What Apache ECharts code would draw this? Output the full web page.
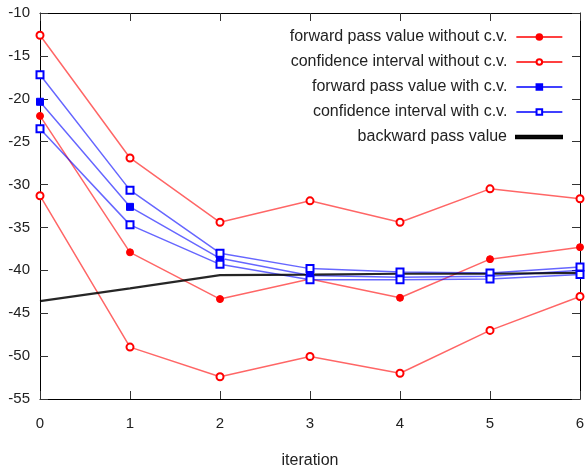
<!DOCTYPE html>
<html>
<head>
<meta charset="utf-8">
<script src="https://cdn.jsdelivr.net/npm/echarts@6/dist/echarts.min.js"></script>
<style>
  html, body { margin: 0; padding: 0; background: #fff; }
  #chart { width: 587px; height: 467px; }
</style>
</head>
<body>
<div id="chart"></div>
<script>
// iterations on x
var iterations = [0, 1, 2, 3, 4, 5, 6];

// without control variate
var fwdNoCv   = [-22.0, -37.9, -43.35, -41.0, -43.2, -38.7, -37.3];
var ciNoCvHi  = [-12.6, -26.9, -34.4, -31.9, -34.4, -30.5, -31.65];
var ciNoCvLo  = [-31.3, -48.95, -52.4, -50.05, -52.0, -47.0, -43.05];

// with control variate
var fwdCv     = [-20.35, -32.6, -38.6, -40.6, -40.8, -40.7, -40.0];
var ciCvHi    = [-17.2, -30.65, -38.0, -39.8, -40.2, -40.3, -39.6];
var ciCvLo    = [-23.5, -34.7, -39.3, -41.1, -41.1, -41.0, -40.5];

// backward pass
var backward  = [-43.6, -42.1, -40.55, -40.5, -40.4, -40.4, -40.3];

var legendNames = [
    'forward pass value without c.v.',
    'confidence interval without c.v.',
    'forward pass value with c.v.',
    'confidence interval with c.v.',
    'backward pass value'
];

var FONT = 'Liberation Sans';
var RED = '#ff0000', BLUE = '#0000ff';

function pts(vals) {
    return iterations.map(function (x, i) { return [x, vals[i]]; });
}

function mkLine(name, vals, color, symbol, size, width, opacity) {
    return {
        name: name,
        type: 'line',
        data: pts(vals),
        symbol: symbol,
        symbolSize: size,
        showSymbol: symbol !== 'none',
        lineStyle: { color: color, width: width, opacity: opacity },
        itemStyle: { color: color, borderColor: color, borderWidth: 1 },
        emphasis: { disabled: true },
        animation: false,
        z: 2
    };
}

var chart = echarts.init(document.getElementById('chart'));

// one legend per entry so that texts are right aligned like gnuplot's key
var legends = legendNames.map(function (n, i) {
    var last = i === legendNames.length - 1;
    return {
        data: [last ? { name: n, icon: 'rect' } : n],
        right: 24,
        top: 29 + i * 25,
        padding: 0,
        orient: 'horizontal',
        align: 'right',
        itemWidth: 46,
        itemHeight: last ? 2.5 : 7,
        lineStyle: { opacity: 1, width: 1.3 },
        itemStyle: last ? { color: '#222' } : {},
        textStyle: { fontFamily: FONT, fontSize: 16, color: '#222', padding: [0, 4, 0, 0] },
        selectedMode: false
    };
});

var axisCommon = {
    type: 'value',
    axisLine: { show: true, onZero: false, lineStyle: { color: '#000', width: 1 } },
    axisTick: { show: true, inside: true, length: 8, lineStyle: { color: '#333' } },
    splitLine: { show: false },
    axisLabel: { fontFamily: FONT, fontSize: 15, color: '#222' }
};

var option = {
    backgroundColor: '#fff',
    animation: false,
    grid: { left: 40, right: 7, top: 13, bottom: 68, containLabel: false, outerBoundsMode: 'none' },
    legend: legends,
    xAxis: [
        Object.assign({}, axisCommon, {
            min: 0, max: 6, interval: 1, position: 'bottom',
            name: 'iteration', nameLocation: 'middle', nameGap: 54,
            nameTextStyle: { fontFamily: FONT, fontSize: 16, color: '#222' },
            axisLabel: Object.assign({}, axisCommon.axisLabel, { margin: 17 })
        }),
        Object.assign({}, axisCommon, {
            min: 0, max: 6, interval: 1, position: 'top',
            axisLabel: { show: false }
        })
    ],
    yAxis: [
        Object.assign({}, axisCommon, {
            min: -55, max: -10, interval: 5, position: 'left',
            axisLabel: Object.assign({}, axisCommon.axisLabel, { margin: 10 })
        }),
        Object.assign({}, axisCommon, {
            min: -55, max: -10, interval: 5, position: 'right',
            axisLabel: { show: false }
        })
    ],
    series: [
        mkLine(legendNames[0], fwdNoCv, RED, 'circle', 7, 1.5, 0.6),
        mkLine(legendNames[1], ciNoCvHi, RED, 'emptyCircle', 7, 1.5, 0.6),
        mkLine(legendNames[1], ciNoCvLo, RED, 'emptyCircle', 7, 1.5, 0.6),
        mkLine(legendNames[2], fwdCv, BLUE, 'rect', 7, 1.5, 0.6),
        mkLine(legendNames[3], ciCvHi, BLUE, 'emptyRect', 7, 1.5, 0.6),
        mkLine(legendNames[3], ciCvLo, BLUE, 'emptyRect', 7, 1.5, 0.6),
        mkLine(legendNames[4], backward, '#000', 'none', 0, 2.2, 0.85)
    ]
};

chart.setOption(option);
</script>
</body>
</html>
